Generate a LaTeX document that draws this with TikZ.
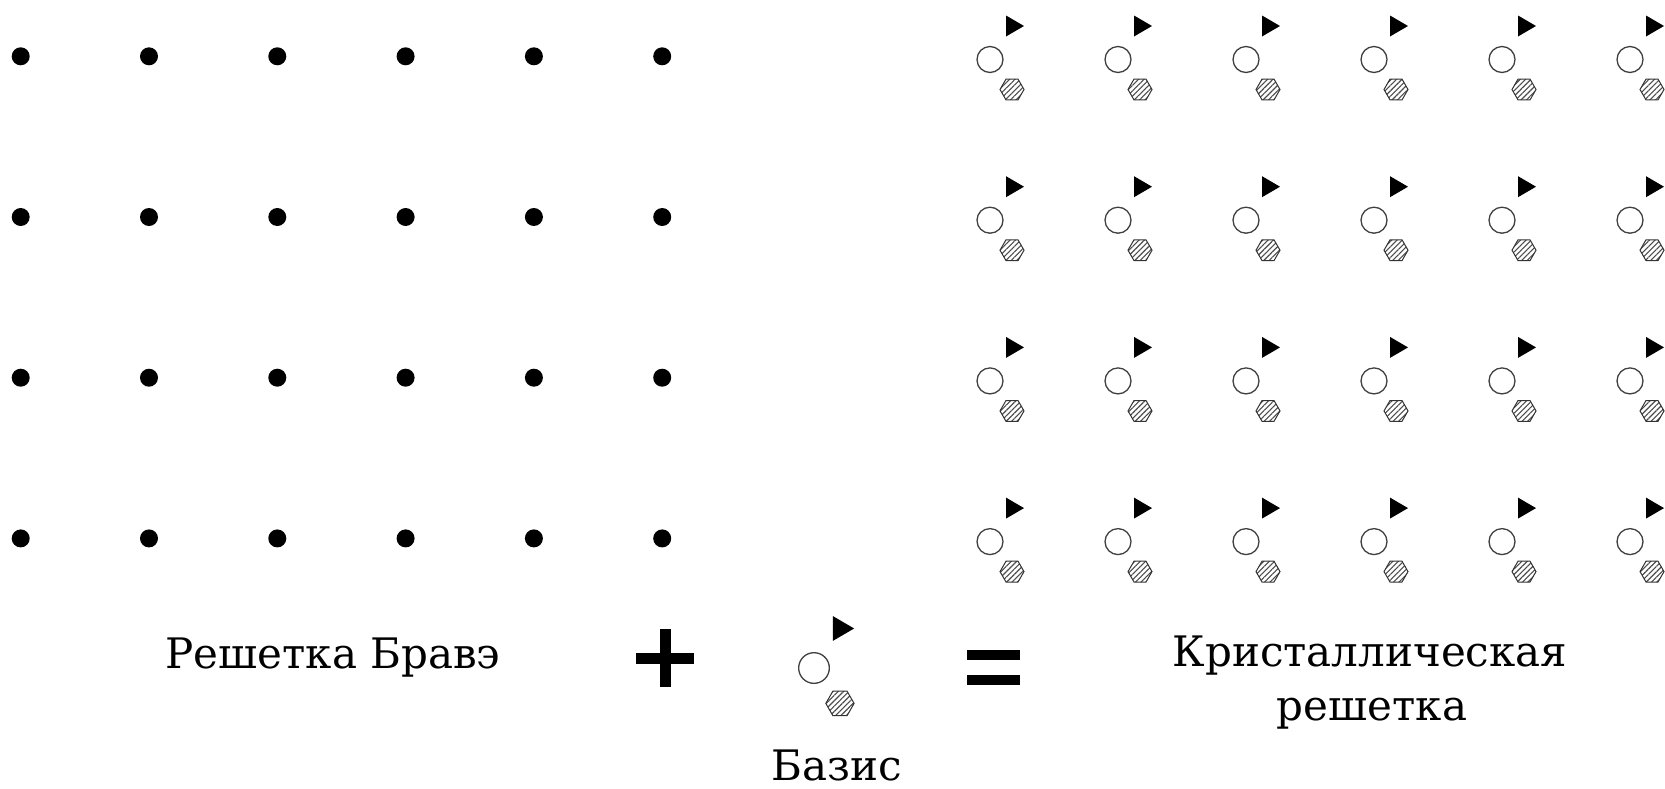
\documentclass[tikz,border=0pt]{standalone}
\usepackage{fontspec}
\setmainfont{DejaVu Serif}
\usetikzlibrary{patterns.meta}
\tikzset{
  latticedot/.style={fill=black},
  atomring/.style={draw=black!75,line width=1.3pt,fill=white},
  atomtri/.style={fill=black},
  hexatom/.style={draw=black!80,line width=1pt,pattern={Lines[angle=45,distance=3.8pt,line width=1.1pt]},pattern color=black!70},
  bar/.style={fill=black},
  label/.style={font=\fontsize{42}{54}\selectfont,inner sep=0pt},
  pics/atomset/.style={code={
    \draw[atomring] (0,0) circle (13);
    \fill[atomtri] (16,-44) -- (16,-23) -- (34,-33.5) -- cycle;
    \draw[hexatom] (34,30) -- (28,19.6) -- (16,19.6) -- (10,30) -- (16,40.4) -- (28,40.4) -- cycle;
  }}
}
\begin{document}
\begin{tikzpicture}[x=1pt,y=-1pt]
\useasboundingbox (0,0) rectangle (1665,788);
% Bravais lattice
\foreach \i in {0,...,5}{
  \foreach \j in {0,...,3}{
    \fill[latticedot] ({20.7+128.3*\i},{56.3+160.7*\j}) circle (9);
  }
}
% crystal lattice
\foreach \i in {0,...,5}{
  \foreach \j in {0,...,3}{
    \pic at ({990+128*\i},{59.5+160.7*\j}) {atomset};
  }
}
% plus
\fill[bar] (636,652.5) rectangle (694,663.5);
\fill[bar] (659.5,629) rectangle (670.5,687);
% equals
\fill[bar] (967,650) rectangle (1020,659.5);
\fill[bar] (967,675) rectangle (1020,684.5);
% basis
\pic[scale=1.18] at (814,668) {atomset};
% labels
\node[label,anchor=base] (bravais) at (333,668) {Решетка Бравэ};
\node[label,anchor=base,text depth=0pt] (basis) at (837,780) {Базис};
\node[label,anchor=base] (crystal1) at (1370,666) {Кристаллическая};
\node[label,anchor=base] (crystal2) at (1372,720) {решетка};
\end{tikzpicture}
\end{document}
